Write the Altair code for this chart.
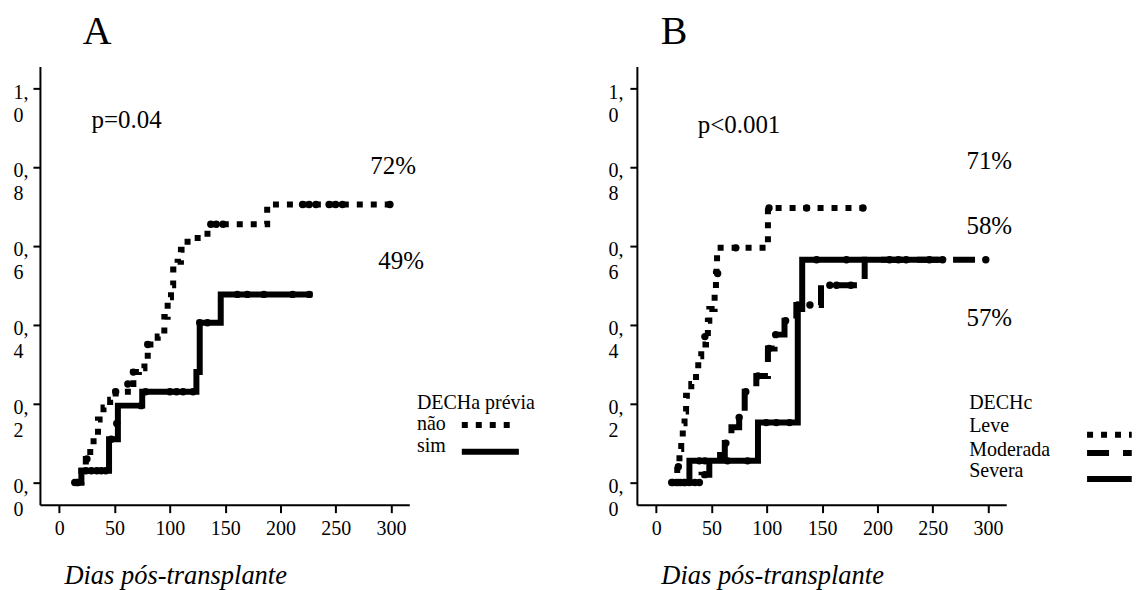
import altair as alt
import pandas as pd

FONT = "Liberation Serif"

# ---------------- data ----------------
X_TICKS = [0, 50, 100, 150, 200, 250, 300]
Y_TICKS = [0.0, 0.2, 0.4, 0.6, 0.8, 1.0]

# Panel A - DECHa prévia
A_NAO_DAYS = [15, 20, 24, 28, 31, 35, 40, 46, 51, 62, 67, 72, 77, 80, 89, 95, 98, 101, 103, 107, 110, 116, 134, 188, 299]
A_NAO_VALS = [0.00, 0.03, 0.06, 0.09, 0.12, 0.16, 0.19, 0.21, 0.23, 0.25, 0.28, 0.29, 0.31, 0.35, 0.37, 0.42, 0.47, 0.50, 0.54, 0.56, 0.59, 0.62, 0.655, 0.705, 0.705]
A_NAO_CENS_DAYS = [16, 25, 51, 62, 67, 80, 137, 142, 148, 220, 226, 232, 244, 250, 256, 299]
A_NAO_CENS_VALS = [0.0, 0.06, 0.23, 0.25, 0.28, 0.35, 0.655, 0.655, 0.655, 0.705, 0.705, 0.705, 0.705, 0.705, 0.705, 0.705]

A_SIM_DAYS = [14, 20, 45, 53, 75, 124, 127, 146, 229]
A_SIM_VALS = [0.00, 0.03, 0.11, 0.195, 0.23, 0.28, 0.405, 0.477, 0.477]
A_SIM_CENS_DAYS = [14, 17, 24, 29, 34, 38, 42, 47, 52, 74, 78, 100, 106, 112, 121, 127, 134, 161, 170, 185, 211, 226]
A_SIM_CENS_VALS = [0.0, 0.0, 0.03, 0.03, 0.03, 0.03, 0.03, 0.11, 0.15, 0.195, 0.23, 0.23, 0.23, 0.23, 0.23, 0.405, 0.405, 0.477, 0.477, 0.477, 0.477, 0.477]

# Panel B - DECHc
B_LEVE_DAYS = [15, 19, 21, 22.6, 24, 25.6, 27, 31.7, 36, 38, 40.7, 45, 46.7, 48, 52.8, 54, 54.5, 55, 101, 187]
B_LEVE_VALS = [0.0, 0.04, 0.085, 0.11, 0.15, 0.18, 0.22, 0.25, 0.28, 0.32, 0.35, 0.37, 0.41, 0.44, 0.48, 0.53, 0.56, 0.595, 0.696, 0.696]
B_LEVE_CENS_DAYS = [15, 20, 44, 55.5, 72, 102, 136, 187]
B_LEVE_CENS_VALS = [0.0, 0.04, 0.37, 0.53, 0.595, 0.696, 0.696, 0.696]

B_MOD_DAYS = [15, 41, 48, 55, 62, 65, 68, 75, 78, 80, 90.5, 101, 107, 116, 126.7, 149, 188.5, 300]
B_MOD_VALS = [0.0, 0.02, 0.05, 0.07, 0.10, 0.12, 0.14, 0.165, 0.18, 0.23, 0.27, 0.34, 0.375, 0.41, 0.45, 0.50, 0.565, 0.565]
B_MOD_CENS_DAYS = [20, 25, 30, 35, 39, 44, 63, 75, 81, 92, 102, 108, 117, 128, 139, 157, 163, 176, 298]
B_MOD_CENS_VALS = [0.0, 0.0, 0.0, 0.0, 0.0, 0.02, 0.10, 0.165, 0.23, 0.27, 0.34, 0.375, 0.41, 0.45, 0.45, 0.50, 0.50, 0.50, 0.565]

B_SEV_DAYS = [13.6, 30, 92, 128, 132, 259]
B_SEV_VALS = [0.0, 0.055, 0.152, 0.44, 0.565, 0.565]
B_SEV_CENS_DAYS = [14, 18, 22, 26, 39, 44, 64.5, 82.6, 99.5, 108.6, 120.6, 145, 172, 211, 219, 226, 247, 259]
B_SEV_CENS_VALS = [0.0, 0.0, 0.0, 0.0, 0.055, 0.055, 0.055, 0.055, 0.152, 0.152, 0.152, 0.565, 0.565, 0.565, 0.565, 0.565, 0.565, 0.565]

# annotations (text, day, value)
A_NOTES_TEXT = ["p=0.04", "72%", "49%"]
A_NOTES_DAY = [29.2, 281.3, 288.5]
A_NOTES_VAL = [0.899, 0.781, 0.541]
B_NOTES_TEXT = ["p<0.001", "71%", "58%", "57%"]
B_NOTES_DAY = [37.5, 280.5, 280.5, 280.5]
B_NOTES_VAL = [0.886, 0.794, 0.630, 0.397]

A_LEG_TEXT = ["DECHa prévia", "não", "sim"]
B_LEG_TEXT = ["DECHc", "Leve", "Moderada", "Severa"]

# ---------------- layout / style ----------------
X_DOMAIN = [-17.5, 316.5]
Y_DOMAIN = [-0.056, 1.055]
W, H = 370, 439
LW = 6
DOT = [6, 8]
DASH = [22, 14]

X_SCALE = alt.Scale(domain=X_DOMAIN, nice=False, zero=False)
Y_SCALE = alt.Scale(domain=Y_DOMAIN, nice=False, zero=False)


def xaxis():
    return alt.Axis(values=X_TICKS, title="Dias pós-transplante", titleFont=FONT, titleFontSize=26.5,
                    titleFontStyle="italic", titleFontWeight="normal", titleColor="black",
                    titleAnchor="start", titleAlign="left", titleX=24, titleY=79, titleBaseline="alphabetic",
                    labelFont=FONT, labelFontSize=20, labelColor="black", labelBaseline="alphabetic",
                    labelPadding=22, labelFlush=False, labelOverlap=False, tickSize=8, tickWidth=2,
                    tickColor="black", domainColor="black", domainWidth=2, grid=False)


def yaxis(pad):
    return alt.Axis(values=Y_TICKS, title=None,
                    labelExpr="[split(format(datum.value, '.1f'), '.')[0] + ',', split(format(datum.value, '.1f'), '.')[1]]",
                    labelFont=FONT, labelFontSize=20, labelColor="black", labelAlign="left",
                    labelBaseline="alphabetic", labelOffset=10, labelLineHeight=23, labelPadding=pad,
                    labelFlush=False, labelOverlap=False, tickSize=7, tickWidth=2, tickColor="black",
                    domainColor="black", domainWidth=2, grid=False)


class Panel:
    def __init__(self, ypad):
        self.xa = xaxis()
        self.ya = yaxis(ypad)

    def X(self, field="day"):
        return alt.X(f"{field}:Q", scale=X_SCALE, axis=self.xa)

    def Y(self, field="p"):
        return alt.Y(f"{field}:Q", scale=Y_SCALE, axis=self.ya)

    def curve(self, days, vals, dash=None):
        df = pd.DataFrame({"day": days, "p": vals})
        kw = dict(interpolate="step-after", color="black", strokeWidth=LW, strokeCap="butt", clip=False)
        if dash is not None:
            kw["strokeDash"] = dash
        return alt.Chart(df).mark_line(**kw).encode(x=self.X(), y=self.Y())

    def censors(self, days, vals):
        df = pd.DataFrame({"day": days, "p": vals})
        return alt.Chart(df).mark_circle(size=55, color="black", opacity=1, clip=False).encode(
            x=self.X(), y=self.Y())

    def texts(self, txt, days, vals, size):
        df = pd.DataFrame({"day": days, "p": vals, "t": txt})
        return alt.Chart(df).mark_text(font=FONT, fontSize=size, color="black", align="left",
                                       baseline="alphabetic", clip=False).encode(
            x=self.X(), y=self.Y(), text="t:N")

    def sample(self, d1, d2, val, dash=None):
        df = pd.DataFrame({"day": [d1], "day2": [d2], "p": [val]})
        kw = dict(color="black", strokeWidth=LW, strokeCap="butt", clip=False)
        if dash is not None:
            kw["strokeDash"] = dash
        return alt.Chart(df).mark_rule(**kw).encode(x=self.X(), x2=alt.X2("day2:Q"), y=self.Y())


def letter(s, dx):
    return alt.Chart(pd.DataFrame({"t": [s]})).mark_text(
        font=FONT, fontSize=40, color="black", align="left", baseline="alphabetic"
    ).encode(x=alt.value(dx), y=alt.value(-22), text="t:N")


def anchor(px, py):
    return alt.Chart(pd.DataFrame({"a": [0]})).mark_circle(size=1, opacity=0).encode(
        x=alt.value(px), y=alt.value(py))


pa = Panel(20)
panel_a = alt.layer(
    pa.curve(A_NAO_DAYS, A_NAO_VALS, DOT),
    pa.curve(A_SIM_DAYS, A_SIM_VALS),
    pa.censors(A_NAO_CENS_DAYS, A_NAO_CENS_VALS),
    pa.censors(A_SIM_CENS_DAYS, A_SIM_CENS_VALS),
    pa.texts(A_NOTES_TEXT, A_NOTES_DAY, A_NOTES_VAL, 25),
    pa.texts(A_LEG_TEXT, [323.4, 323.4, 323.4], [0.187, 0.133, 0.077], 20),
    pa.sample(364, 412, 0.146, DOT),
    pa.sample(364, 415.6, 0.078),
    letter("A", 43),
    anchor(-39, -65),
).properties(width=W, height=H)

pb = Panel(22)
panel_b = alt.layer(
    pb.curve(B_LEVE_DAYS, B_LEVE_VALS, DOT),
    pb.curve(B_MOD_DAYS, B_MOD_VALS, DASH),
    pb.curve(B_SEV_DAYS, B_SEV_VALS),
    pb.censors(B_LEVE_CENS_DAYS, B_LEVE_CENS_VALS),
    pb.censors(B_MOD_CENS_DAYS, B_MOD_CENS_VALS),
    pb.censors(B_SEV_CENS_DAYS, B_SEV_CENS_VALS),
    pb.texts(B_NOTES_TEXT, B_NOTES_DAY, B_NOTES_VAL, 25),
    pb.texts(B_LEG_TEXT, [283, 283, 283, 283], [0.187, 0.129, 0.068, 0.014], 20),
    pb.sample(389.6, 430, 0.121, DOT),
    pb.sample(389.6, 430, 0.075, DASH),
    pb.sample(389.6, 430, 0.009),
    letter("B", 24),
    anchor(500, 525),
).properties(width=W, height=H)

chart = alt.HConcatChart(hconcat=[panel_a, panel_b], spacing=228, bounds="flush").properties(
    padding=0, background="white"
).configure(
    font=FONT,
    style={"guide-label": {"font": FONT}, "guide-title": {"font": FONT}},
).configure_view(stroke=None).configure_axis(
    labelFont=FONT, titleFont=FONT, labelFontSize=20, titleFontSize=26.5
)

chart.save("out.html", embed_options={"renderer": "svg", "actions": False})
